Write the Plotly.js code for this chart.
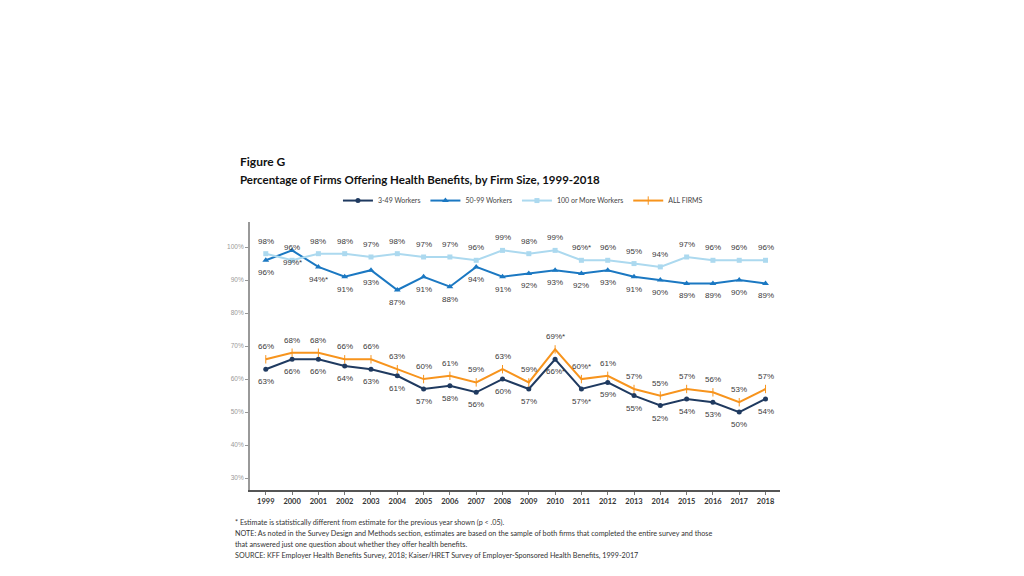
<!DOCTYPE html>
<html>
<head>
<meta charset="utf-8">
<script src="https://cdn.plot.ly/plotly-3.0.1.min.js"></script>
<style>html,body{margin:0;padding:0;background:#fff;}#chart{width:1024px;height:576px;}</style>
</head>
<body>
<div id="chart"></div>
<script>
const years = [1999,2000,2001,2002,2003,2004,2005,2006,2007,2008,2009,2010,2011,2012,2013,2014,2015,2016,2017,2018];
const small = [63,66,66,64,63,61,57,58,56,60,57,66,57,59,55,52,54,53,50,54];
const smallStar = [0,0,0,0,0,0,0,0,0,0,0,1,1,0,0,0,0,0,0,0];
const mid = [96,99,94,91,93,87,91,88,94,91,92,93,92,93,91,90,89,89,90,89];
const midStar = [0,1,1,0,0,0,0,0,0,0,0,0,0,0,0,0,0,0,0,0];
const large = [98,96,98,98,97,98,97,97,96,99,98,99,96,96,95,94,97,96,96,96];
const largeStar = [0,0,0,0,0,0,0,0,0,0,0,0,1,0,0,0,0,0,0,0];
const all = [66,68,68,66,66,63,60,61,59,63,59,69,60,61,57,55,57,56,53,57];
const allStar = [0,0,0,0,0,0,0,0,0,0,0,1,1,0,0,0,0,0,0,0];
const yTicks = [30,40,50,60,70,80,90,100];

const lbl = (v, s) => v.map((x, i) => x + '%' + (s[i] ? '*' : ''));
const textFont = {family: 'Liberation Sans, Arial, sans-serif', size: 8, color: '#3a3a3a'};

const traces = [
  {x: years, y: small, name: '3-49 Workers', mode: 'lines+markers',
   line: {color: '#1f3a60', width: 2}, marker: {symbol: 'circle', size: 5, color: '#1f3a60'}},
  {x: years, y: mid, name: '50-99 Workers', mode: 'lines+markers',
   line: {color: '#1b78c2', width: 2}, marker: {symbol: 'triangle-up', size: 6, color: '#1b78c2'}},
  {x: years, y: large, name: '100 or More Workers', mode: 'lines+markers',
   line: {color: '#acd9ef', width: 2}, marker: {symbol: 'square', size: 5, color: '#acd9ef'}},
  {x: years, y: all, name: 'ALL FIRMS', mode: 'lines+markers',
   line: {color: '#f7941d', width: 2}, marker: {symbol: 'line-ns', size: 6, color: '#f7941d', line: {color: '#f7941d', width: 1}}}
];

function labels(vals, stars, shift) {
  const texts = lbl(vals, stars);
  return vals.map((v, i) => ({x: years[i], y: v, xref: 'x', yref: 'y', text: texts[i], showarrow: false,
    yshift: shift, xanchor: 'center', yanchor: 'middle', font: textFont}));
}

const footFont = {family: 'Lato, Open Sans, sans-serif', size: 7.2, color: '#333'};
const fx = -0.032;
const foot = (t, y) => ({text: t, xref: 'paper', yref: 'paper', x: fx, y: y, xanchor: 'left', yanchor: 'middle', showarrow: false, font: footFont});

const layout = {
  width: 1024, height: 576,
  margin: {l: 250, r: 244, t: 222, b: 86},
  paper_bgcolor: '#fff', plot_bgcolor: '#fff',
  showlegend: true,
  legend: {orientation: 'h', x: 0.515, xanchor: 'center', y: 1.08, yanchor: 'middle',
           font: {family: 'Lato, Open Sans, sans-serif', size: 7, color: '#444'}, itemwidth: 30, tracegroupgap: 0},
  xaxis: {range: [1998.4, 2018.55], tickvals: years, ticktext: years.map(String), showgrid: false, zeroline: false,
          showline: true, linecolor: '#555', linewidth: 1.5, ticks: 'outside', ticklen: 3, tickcolor: '#777',
          tickfont: {family: 'Lato, Open Sans, sans-serif', size: 7.5, color: '#333', weight: 'bold'}, fixedrange: true},
  yaxis: {range: [26.4, 107.6], tickvals: yTicks, ticktext: yTicks.map(v => v + '%'), showgrid: false, zeroline: false,
          showline: true, linecolor: '#999', linewidth: 2, ticks: 'outside', ticklen: 3, tickcolor: '#999',
          tickfont: {family: 'Liberation Sans, Arial, sans-serif', size: 6.5, color: '#999'}, fixedrange: true},
  annotations: [
    {text: '<b>Figure G</b>', xref: 'paper', yref: 'paper', x: -0.0226, y: 1.224, xanchor: 'left', yanchor: 'middle', showarrow: false,
     font: {family: 'Lato, Open Sans, sans-serif', size: 12, color: '#111'}},
    {text: '<b>Percentage of Firms Offering Health Benefits, by Firm Size, 1999-2018</b>', xref: 'paper', yref: 'paper', x: -0.0226, y: 1.157, xanchor: 'left', yanchor: 'middle', showarrow: false,
     font: {family: 'Lato, Open Sans, sans-serif', size: 11.5, color: '#111'}},
    foot('* Estimate is statistically different from estimate for the previous year shown (p < .05).', -0.123),
    foot('NOTE: As noted in the Survey Design and Methods section, estimates are based on the sample of both firms that completed the entire survey and those', -0.164),
    foot('that answered just one question about whether they offer health benefits.', -0.205),
    foot('SOURCE: KFF Employer Health Benefits Survey, 2018; Kaiser/HRET Survey of Employer-Sponsored Health Benefits, 1999-2017', -0.246)
  ].concat(labels(small, smallStar, -12.5), labels(mid, midStar, -12.5), labels(large, largeStar, 12.5), labels(all, allStar, 12.5))
};

Plotly.newPlot('chart', traces, layout, {displayModeBar: false, staticPlot: true});
</script>
</body>
</html>
